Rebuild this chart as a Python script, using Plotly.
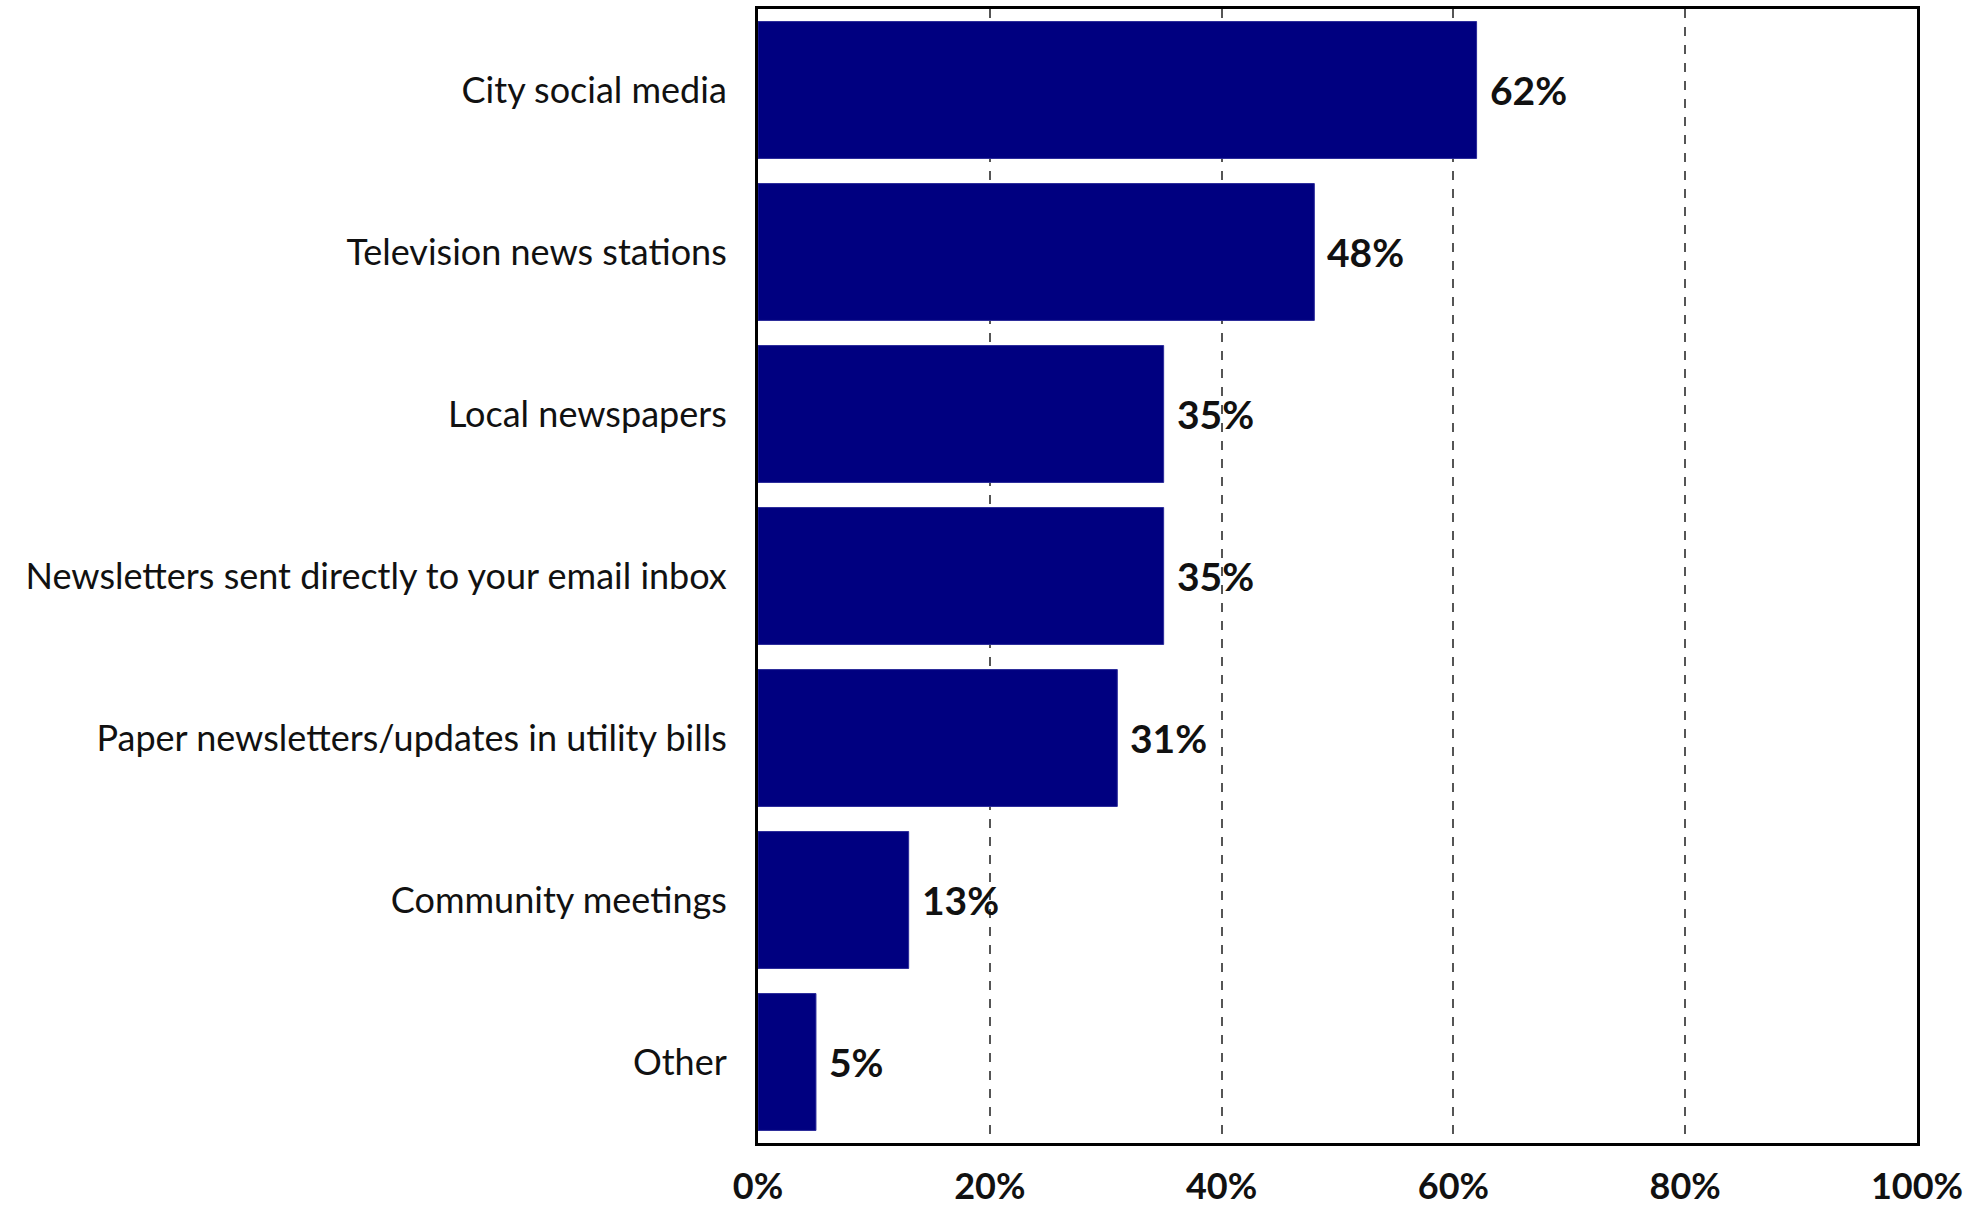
import plotly.graph_objects as go

categories = [
    "City social media",
    "Television news stations",
    "Local newspapers",
    "Newsletters sent directly to your email inbox",
    "Paper newsletters/updates in utility bills",
    "Community meetings",
    "Other",
]
values = [62, 48, 35, 35, 31, 13, 5]
tick_vals = [0, 20, 40, 60, 80, 100]
tick_text = ["0%", "20%", "40%", "60%", "80%", "100%"]

FONT = "Lato, Carlito, 'Open Sans', sans-serif"

fig = go.Figure()
fig.add_trace(go.Bar(
    y=categories,
    x=values,
    orientation="h",
    marker=dict(color="#000080", line=dict(color="#2a2a9a", width=1)),
    hoverinfo="skip",
))

for c, v in zip(categories, values):
    fig.add_annotation(
        x=v, y=c, xref="x", yref="y",
        text=f"<b>{v}%</b>",
        showarrow=False, xanchor="left", xshift=11,
        font=dict(family=FONT, size=39, color="#111111"),
    )

fig.update_layout(
    width=1972, height=1210,
    margin=dict(l=758, r=55, t=9, b=67),
    paper_bgcolor="white",
    plot_bgcolor="white",
    bargap=0.155,
    showlegend=False,
    font=dict(family=FONT, color="#111111"),
)

fig.update_xaxes(
    range=[0, 100],
    tickvals=tick_vals,
    ticktext=tick_text,
    tickfont=dict(family=FONT, size=36, color="#111111", weight="bold"),
    showgrid=True,
    gridcolor="#555555",
    griddash="dash",
    gridwidth=1.5,
    showline=True,
    linecolor="#000000",
    linewidth=3,
    mirror=True,
    ticks="outside",
    ticklen=10,
    tickcolor="rgba(0,0,0,0)",
    zeroline=False,
    automargin=False,
    fixedrange=True,
)

fig.update_yaxes(
    categoryorder="array",
    categoryarray=categories[::-1],
    tickfont=dict(family=FONT, size=36, color="#111111"),
    showgrid=False,
    showline=True,
    linecolor="#000000",
    linewidth=3,
    mirror=True,
    ticks="outside",
    ticklen=21,
    tickcolor="rgba(0,0,0,0)",
    automargin=False,
    fixedrange=True,
)

fig.write_html("out.html")
